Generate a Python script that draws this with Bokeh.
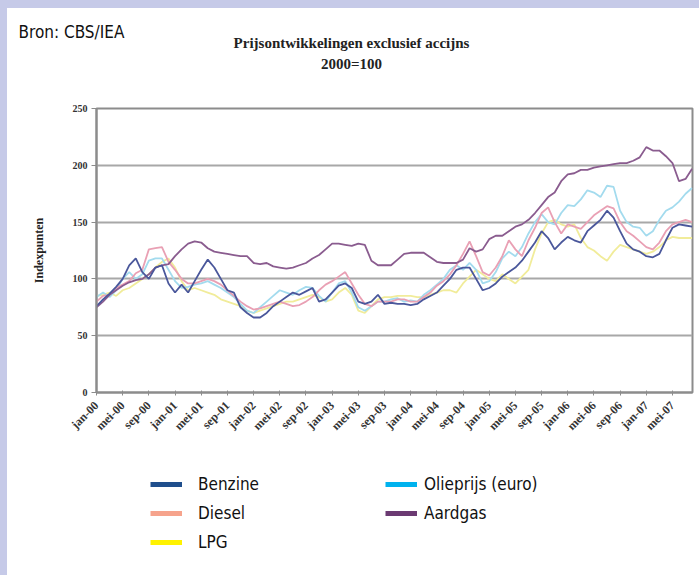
import numpy as np
from bokeh.plotting import figure
from bokeh.layouts import column
from bokeh.models import Range1d, FixedTicker, Legend, LegendItem, Label
from bokeh.embed import file_html
from bokeh.resources import INLINE
from math import pi

# ---- data (monthly index, 2000=100), jan-00 .. aug-07 ----
months = list(range(92))
tick_months = list(range(0, 92, 4))
tick_labels = ["jan-00", "mei-00", "sep-00", "jan-01", "mei-01", "sep-01",
               "jan-02", "mei-02", "sep-02", "jan-03", "mei-03", "sep-03",
               "jan-04", "mei-04", "sep-04", "jan-05", "mei-05", "sep-05",
               "jan-06", "mei-06", "sep-06", "jan-07", "mei-07"]

benzine = [76, 82, 87, 93, 100, 112, 118, 106, 100, 110, 112, 96, 88, 95, 88, 98,
           108, 117, 110, 100, 90, 88, 75, 70, 66, 66, 70, 76, 80, 84, 88, 86,
           89, 92, 80, 82, 88, 94, 96, 92, 80, 78, 80, 86, 78, 79, 78, 78,
           77, 78, 82, 85, 88, 94, 100, 108, 110, 110, 100, 90, 92, 96, 102, 106,
           110, 116, 124, 132, 142, 136, 126, 132, 137, 134, 132, 142, 147, 152, 160, 154,
           142, 131, 126, 124, 120, 119, 122, 134, 145, 148, 147, 146]

diesel = [80, 85, 86, 92, 95, 98, 105, 108, 126, 127, 128, 115, 108, 100, 96, 96,
          98, 100, 98, 95, 90, 85, 80, 76, 73, 74, 76, 78, 80, 78, 76, 77,
          80, 84, 90, 95, 98, 102, 106, 96, 86, 78, 76, 80, 80, 80, 82, 82,
          80, 80, 84, 88, 94, 98, 104, 112, 122, 133, 120, 106, 103, 110, 120, 134,
          126, 120, 134, 145, 158, 163, 150, 140, 148, 146, 144, 150, 156, 160, 164, 162,
          150, 142, 138, 133, 128, 126, 132, 142, 148, 150, 152, 150]

lpg = [85, 86, 88, 85, 90, 92, 96, 100, 104, 110, 115, 118, 110, 98, 90, 92,
       90, 88, 86, 82, 80, 78, 76, 72, 70, 72, 74, 76, 78, 80, 80, 82,
       84, 86, 84, 80, 82, 88, 92, 86, 72, 70, 76, 82, 84, 84, 85, 85,
       85, 84, 84, 86, 88, 90, 90, 88, 96, 102, 108, 104, 100, 98, 104, 100,
       96, 102, 108, 126, 140, 150, 152, 148, 146, 148, 136, 128, 125, 120, 116, 124,
       130, 128, 126, 124, 122, 124, 128, 134, 137, 136, 136, 136]

olieprijs = [84, 88, 84, 90, 100, 106, 100, 104, 116, 118, 118, 108, 98, 92, 93, 95,
             96, 98, 95, 92, 88, 84, 78, 72, 70, 75, 80, 85, 90, 88, 86, 90,
             93, 92, 85, 80, 88, 96, 98, 88, 75, 72, 76, 80, 80, 82, 83, 80,
             81, 80, 86, 90, 95, 100, 108, 112, 108, 114, 108, 96, 98, 106, 118, 124,
             120, 128, 140, 150, 157, 150, 148, 158, 165, 164, 170, 178, 176, 172, 182, 181,
             160, 150, 146, 145, 138, 142, 152, 160, 163, 168, 175, 180]

aardgas = [75, 80, 86, 90, 94, 97, 99, 100, 104, 110, 112, 113, 120, 126, 131, 133,
           132, 127, 124, 123, 122, 121, 120, 120, 114, 113, 114, 111, 110, 109, 110, 112,
           114, 118, 121, 126, 131, 131, 130, 129, 131, 130, 116, 112, 112, 112, 117, 122,
           123, 123, 123, 119, 115, 114, 114, 114, 117, 127, 124, 126, 135, 138, 138, 142,
           146, 148, 152, 158, 165, 172, 176, 186, 192, 193, 196, 196, 198, 199, 200, 201,
           202, 202, 204, 207, 216, 213, 213, 208, 202, 186, 188, 197]

series_names = ["Benzine", "Diesel", "LPG", "Olieprijs (euro)", "Aardgas"]
chart_colors = {"Benzine": "#4a579b", "Diesel": "#e9a0b4", "LPG": "#f1ec9a",
                "Olieprijs (euro)": "#a3dbee", "Aardgas": "#8a5c8f"}
legend_colors = {"Benzine": "#1f4e8c", "Diesel": "#f6a38c", "LPG": "#fff200",
                 "Olieprijs (euro)": "#00b2ee", "Aardgas": "#6b3a72"}
values = {"Benzine": benzine, "Diesel": diesel, "LPG": lpg,
          "Olieprijs (euro)": olieprijs, "Aardgas": aardgas}

SERIF = "Liberation Serif"
SANS = "'Liberation Sans Narrow', 'DejaVu Sans Condensed', sans-serif"
W = 692

# ---------------- header (source + titles) ----------------
hdr = figure(width=W, height=92, output_backend="svg", toolbar_location=None,
             x_range=Range1d(0, W), y_range=Range1d(92, 0), min_border=0,
             x_axis_type=None, y_axis_type=None, title=None)
hdr.frame_align = False
hdr.grid.visible = False
hdr.outline_line_color = None
hdr.background_fill_color = "white"
hdr.border_fill_color = "white"
hdr.add_layout(Label(x=11, y=23, text="Bron: CBS/IEA", text_font=SANS,
                     text_font_size="17px", text_color="#111111",
                     text_align="left", text_baseline="middle"))
hdr.add_layout(Label(x=344, y=34, text="Prijsontwikkelingen exclusief accijns",
                     text_font=SERIF, text_font_style="bold", text_font_size="15px",
                     text_color="#222222", text_align="center", text_baseline="middle"))
hdr.add_layout(Label(x=344, y=55, text="2000=100",
                     text_font=SERIF, text_font_style="bold", text_font_size="15px",
                     text_color="#222222", text_align="center", text_baseline="middle"))

# ---------------- main chart ----------------
p = figure(width=W, height=350, output_backend="svg", toolbar_location=None,
           x_range=Range1d(0, 91.06), y_range=Range1d(0, 250),
           min_border_left=89, min_border_right=7, min_border_top=8,
           min_border_bottom=58, title=None)
p.frame_align = False
p.background_fill_color = "white"
p.border_fill_color = "white"
p.outline_line_color = "#8c8c8c"
p.outline_line_width = 2

p.xgrid.grid_line_color = None
p.ygrid.grid_line_color = "#a8a8a8"
p.ygrid.grid_line_width = 2
p.yaxis.ticker = FixedTicker(ticks=[0, 50, 100, 150, 200, 250])

p.xaxis.ticker = FixedTicker(ticks=tick_months)
p.xaxis.major_label_overrides = {m: lab for m, lab in zip(tick_months, tick_labels)}
p.xaxis.major_label_orientation = pi / 4
p.xaxis.minor_tick_line_color = None
p.yaxis.minor_tick_line_color = None
for ax in (p.xaxis[0], p.yaxis[0]):
    ax.axis_line_color = "#8c8c8c"
    ax.axis_line_width = 2
    ax.major_tick_line_color = "#8c8c8c"
    ax.major_tick_line_width = 1
    ax.major_label_text_font = SERIF
    ax.major_label_text_font_style = "bold"
    ax.major_label_text_color = "#333333"
p.xaxis.major_tick_in = 2
p.xaxis.major_tick_out = 3
p.xaxis.major_label_standoff = 8
p.xaxis.major_label_text_font_size = "12px"
p.yaxis.major_tick_in = 0
p.yaxis.major_tick_out = 5
p.yaxis.major_label_standoff = 4
p.yaxis.major_label_text_font_size = "10px"
p.yaxis.axis_label = "Indexpunten"
p.yaxis.axis_label_text_font = SERIF
p.yaxis.axis_label_text_font_style = "bold"
p.yaxis.axis_label_text_font_size = "12px"
p.yaxis.axis_label_text_color = "#222222"
p.yaxis.axis_label_standoff = 24

for name in ["LPG", "Olieprijs (euro)", "Diesel", "Aardgas", "Benzine"]:
    p.line(months, values[name], line_color=chart_colors[name], line_width=1.8)

# ---------------- legend panel ----------------
# the legend figure's y range lies outside the data, so only the legend swatches show
leg = figure(width=W, height=125, output_backend="svg", toolbar_location=None,
             x_range=Range1d(0, 91), y_range=Range1d(-20, -10), min_border=0,
             x_axis_type=None, y_axis_type=None, title=None)
leg.frame_align = False
leg.grid.visible = False
leg.outline_line_color = None
leg.background_fill_color = "white"
leg.border_fill_color = "white"
swatch = {n: leg.line(months, values[n], line_color=legend_colors[n], line_width=5)
          for n in series_names}

def make_legend(names, loc, standoff):
    lg = Legend(items=[LegendItem(label=n, renderers=[swatch[n]]) for n in names],
                location=loc, orientation="vertical")
    lg.label_text_font = SANS
    lg.label_text_font_size = "17px"
    lg.label_text_color = "#111111"
    lg.glyph_width = 32
    lg.glyph_height = 20
    lg.label_height = 20
    lg.label_standoff = standoff
    lg.spacing = 9
    lg.padding = 0
    lg.margin = 0
    lg.border_line_color = None
    lg.background_fill_alpha = 0
    return lg

leg.add_layout(make_legend(["Benzine", "Diesel", "LPG"], (143, 23), 16), "center")
leg.add_layout(make_legend(["Olieprijs (euro)", "Aardgas"], (378, 52), 7), "center")

root = column(hdr, p, leg, spacing=0,
              styles={"background-color": "white",
                      "border-left": "7px solid #c6cae8",
                      "border-top": "8px solid #c6cae8"})

open("out.html", "w").write(file_html(root, INLINE))
